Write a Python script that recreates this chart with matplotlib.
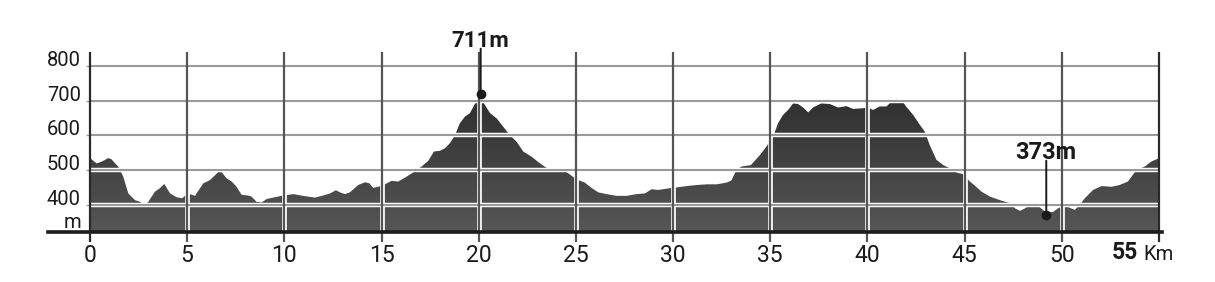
import numpy as np
import matplotlib.pyplot as plt
from matplotlib.colors import LinearSegmentedColormap
import matplotlib.transforms as mtransforms

# ---- Elevation profile ----
distance_km = [
    0.0, 0.34, 0.6, 0.94, 1.1, 1.46, 1.71, 1.97, 2.31, 2.57, 2.8, 3.0, 3.34, 3.6,
    3.82, 4.12, 4.46, 4.75, 4.97, 5.2, 5.4, 5.83, 6.17, 6.6, 6.77, 7.03, 7.29,
    7.54, 7.8, 8.14, 8.31, 8.57, 8.83, 9.09, 9.5, 9.86, 10.46, 10.97, 11.57,
    12.0, 12.35, 12.65, 12.86, 13.12, 13.37, 13.8, 14.15, 14.37, 14.57, 14.83,
    15.09, 15.52, 15.86, 16.2, 16.63, 17.06, 17.4, 17.7, 18.0, 18.26, 18.52,
    18.78, 19.03, 19.29, 19.55, 19.8, 20.06, 20.32, 20.58, 20.92, 21.26, 21.6,
    21.95, 22.29, 22.72, 23.15, 23.57, 24.0, 24.26, 24.6, 25.03, 25.46, 25.8,
    26.15, 26.58, 27.09, 27.6, 28.12, 28.55, 28.89, 29.24, 29.84, 30.18, 30.69,
    31.2, 31.72, 32.24, 32.75, 33.0, 33.26, 33.52, 34.0, 34.47, 34.8, 35.15,
    35.4, 35.66, 35.92, 36.18, 36.43, 36.69, 36.95, 37.2, 37.63, 38.06, 38.49,
    38.92, 39.26, 39.78, 40.0, 40.29, 40.63, 40.98, 41.23, 41.49, 41.75, 42.0,
    42.35, 42.7, 42.95, 43.2, 43.55, 43.9, 44.24, 44.58, 44.92, 45.27, 45.43,
    45.87, 46.3, 46.8, 47.33, 47.6, 47.85, 48.1, 48.36, 48.61, 48.83, 49.2,
    49.55, 49.8, 50.15, 50.4, 50.67, 50.92, 51.18, 51.61, 52.04, 52.55, 52.97,
    53.4, 53.84, 54.27, 54.6, 55.0,
]
elevation_m = [
    535, 520, 525, 535, 532, 510, 482, 434, 415, 410, 401, 410, 439, 449,
    461, 434, 423, 420, 432, 431, 427, 463, 472, 495, 495, 477, 468,
    453, 430, 428, 425, 410, 408, 418, 423, 427, 432, 427, 422,
    428, 434, 443, 437, 432, 437, 458, 466, 463, 450, 453,
    458, 470, 468, 479, 494, 511, 527, 554, 556, 563, 578,
    601, 635, 654, 664, 690, 711, 687, 664, 649, 625, 601,
    582, 554, 539, 520, 504, 501, 504, 492, 474, 465, 450,
    437, 432, 427, 427, 432, 434, 446, 444, 449, 451, 455,
    458, 460, 460, 465, 471, 501, 511, 515, 544, 568, 597,
    635, 659, 673, 692, 690, 680, 666, 680, 692, 690, 680,
    684, 676, 678, 680, 673, 683, 683, 697, 705, 702, 682,
    659, 630, 611, 573, 530, 515, 506, 494, 489, 468, 461,
    439, 425, 415, 406, 391, 384, 391, 401, 404, 396, 379,
    381, 391, 401, 393, 387, 401, 420, 444, 455, 453, 458,
    468, 501, 511, 525, 535,
]

# highlighted points: (km, metres)
max_point = (20.1, 711)
min_point = (49.2, 373)

x_ticks = list(range(0, 56, 5))
y_ticks = [400, 500, 600, 700, 800]
y_bottom, y_top = 323.5, 839
unit_label_y = 335

FONT = 'Roboto'
INK = '#1a1a1a'

fig = plt.figure(figsize=(12.15, 2.82), dpi=100)
W, H = 1215, 282
ax = fig.add_axes([90 / W, (H - 232) / H, 1069 / W, 180 / H])
ax.set_xlim(0, 55)
ax.set_ylim(y_bottom, y_top)
for side in ['top', 'right', 'left', 'bottom']:
    ax.spines[side].set_visible(False)

# ---- Filled profile with a vertical gradient ----
poly = ax.fill_between(distance_km, elevation_m, y_bottom, color='none', lw=0)
grad_cmap = LinearSegmentedColormap.from_list('g', ['#565656', '#2f2f2f'])
gradient = np.linspace(0, 1, 256).reshape(-1, 1)
img = ax.imshow(gradient, cmap=grad_cmap, origin='lower', aspect='auto',
                extent=[0, 55, y_bottom, max(elevation_m)], zorder=1)
img.set_clip_path(poly.get_paths()[0], transform=ax.transData)

# ---- Grid lines (gray with a white edge) ----
ax.hlines(y_ticks, 0, 55, colors='white', linewidth=3.2, zorder=2)
ax.hlines(y_ticks, 0, 55, colors='#9a9a9a', linewidth=1.5, zorder=3)

xt = ax.get_xaxis_transform()
grid_x = x_ticks[1:-1]
ax.vlines(grid_x, -0.056, 1, transform=xt, colors='white', linewidth=3.4, zorder=2, clip_on=False)
ax.vlines(grid_x, -0.056, 1, transform=xt, colors='#555555', linewidth=1.6, zorder=3, clip_on=False)
ax.vlines([0, 55], -0.056, 1, transform=xt, colors='#2a2a2a', linewidth=1.6, zorder=4, clip_on=False)

# baseline, a bit wider than the plot
ax.axhline(y_bottom, xmin=-42 / 1069, xmax=1 + 3 / 1069, color='#1c1c1c', linewidth=2.6,
           zorder=5, clip_on=False)

# ---- Ticks and labels ----
ax.set_xticks(x_ticks)
ax.set_xticklabels([str(t) for t in x_ticks[:-1]] + [''])
ax.tick_params(axis='x', length=0, pad=9, labelsize=16.5, labelcolor=INK)
ax.set_yticks(y_ticks)
ax.set_yticklabels([str(t) for t in y_ticks])
ax.tick_params(axis='y', length=3, width=1, color='#9a9a9a', pad=3.5, labelsize=14.5,
               labelcolor=INK)
for lab in ax.get_xticklabels() + ax.get_yticklabels():
    lab.set_fontfamily(FONT)
for lab in ax.get_yticklabels():
    lab.set_verticalalignment('baseline')

off = lambda dx, dy: mtransforms.offset_copy(ax.transData, fig=fig, x=dx, y=dy, units='dots')
ax.text(0, unit_label_y, 'm', transform=off(-9, 0), ha='right', va='baseline',
        fontsize=14.5, family=FONT, color=INK)

ax.text(55, y_bottom, '55', transform=off(-21, -32), ha='right', va='bottom',
        fontsize=16.5, fontweight='bold', family=FONT, color=INK, clip_on=False)
ax.text(55, y_bottom, 'Km', transform=off(-16, -32), ha='left', va='bottom',
        fontsize=14.5, family=FONT, color=INK, clip_on=False)

# ---- Max / min markers ----
for (km, elev), stem_px, dot_dy, size in [(max_point, 45, 3, 16), (min_point, 54, 0, 17)]:
    ax.plot([km], [elev], marker='o', markersize=6, color=INK,
            transform=off(0, dot_dy), zorder=7, clip_on=False)
    ax.annotate('', xy=(km, elev), xytext=(0, stem_px), textcoords='offset pixels',
                xycoords=off(0, dot_dy),
                arrowprops=dict(arrowstyle='-', color=INK, lw=1.4, shrinkA=0, shrinkB=0),
                zorder=6, annotation_clip=False)
    ax.text(km, elev, f'{elev}m', transform=off(0, dot_dy + stem_px - 3), ha='center',
            va='bottom', fontsize=size, fontweight='bold', family=FONT, color=INK,
            clip_on=False)

fig.savefig('out.png', dpi=100, facecolor='white')
